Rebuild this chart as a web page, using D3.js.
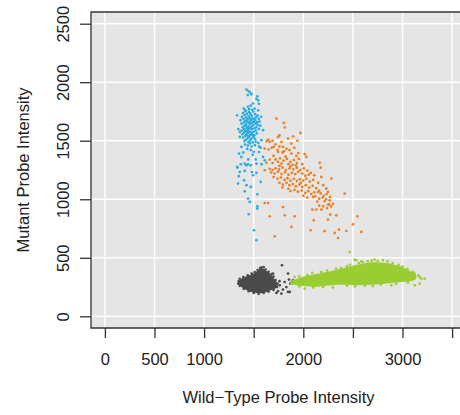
<!DOCTYPE html>
<html>
<head>
<meta charset="utf-8">
<script src="https://cdn.jsdelivr.net/npm/d3@7"></script>
<style>
  html, body { margin: 0; padding: 0; background: #fff; }
  svg { display: block; font-family: 'Liberation Sans', Arial, Helvetica, sans-serif; }
</style>
</head>
<body>
<svg id="chart" width="460" height="415"></svg>
<script>
// axis ticks (R drops the labels that would overlap)
const xTicks = [0, 500, 1000, 1500, 2000, 2500, 3000, 3500]
const xTickLabels = ['0', '500', '1000', '', '2000', '', '3000', '']
const yTicks = [0, 500, 1000, 1500, 2000, 2500]

// homozygous mutant calls
const bluePoints = [
  [1427,1937],[1447,1925],[1463,1912],[1477,1898],[1440,1890],[1537,1880],[1527,1858],[1545,1845],
  [1493,1818],[1553,1815],[1400,1775],[1443,1790],[1510,1775],[1545,1760],[1470,1800],[1455,1770],
  [1420,1760],[1485,1765],
  [1392,1737],[1414,1751],[1431,1729],[1452,1744],[1468,1722],[1497,1749],[1513,1727],[1538,1716],
  [1575,1705],[1333,1718],[1381,1704],[1407,1719],[1422,1698],[1447,1708],[1461,1693],[1483,1711],
  [1503,1689],[1523,1701],[1551,1686],[1368,1676],[1397,1688],[1413,1669],[1438,1683],[1457,1664],
  [1474,1679],[1492,1661],[1514,1676],[1534,1659],[1559,1664],[1377,1647],[1402,1657],[1424,1639],
  [1436,1662],[1463,1642],[1479,1652],[1497,1634],[1519,1646],[1541,1636],[1566,1629],[1388,1617],
  [1409,1631],[1433,1609],[1449,1621],[1471,1613],[1486,1626],[1507,1606],[1526,1617],[1552,1601],
  [1345,1600],[1379,1587],[1401,1603],[1418,1583],[1442,1592],[1458,1578],[1481,1599],[1499,1577],
  [1521,1586],[1595,1590],[1386,1556],[1404,1571],[1427,1553],[1443,1566],[1466,1549],[1484,1559],
  [1506,1546],[1531,1563],[1360,1575],[1394,1527],[1416,1541],[1437,1519],[1453,1533],[1476,1516],
  [1497,1529],[1514,1514],[1360,1533],[1578,1505],[1406,1497],[1423,1509],[1446,1489],[1464,1503],
  [1491,1486],[1521,1493],[1545,1480],[1414,1468],[1441,1459],[1461,1477],[1479,1451],[1511,1462],
  [1555,1450],[1570,1440],[1435,1430],[1470,1420],[1500,1405],[1554,1404],[1376,1447],[1353,1390],
  [1594,1362],[1611,1333],[1376,1362],[1527,1305],[1410,1305],[1333,1276],[1445,1340],[1490,1380],
  [1395,1400],[1520,1340],[1580,1300],[1428,1667],[1486,1688],[1454,1604],[1472,1571],[1413,1592],
  [1466,1733],[1432,1574],[1490,1545],[1455,1650],[1503,1661],[1420,1625],[1445,1537],
  [1336,1271],[1370,1299],[1427,1290],[1443,1299],[1470,1290],[1359,1233],[1410,1242],[1483,1233],
  [1527,1225],[1494,1205],[1349,1197],[1403,1162],[1342,1134],[1427,1120],[1470,1105],[1571,1148],
  [1410,1068],[1537,1043],[1443,1006],[1460,977],[1537,940],[1537,920],[1450,872],[1503,735],[1527,650]
]

// heterozygous calls
const orangePoints = [
  [1729,1689],[1803,1652],[1813,1613],[1746,1533],[1760,1545],[1971,1567],[1897,1538],[1846,1519],
  [1940,1500],[1645,1510],[1662,1490],[1630,1495],[1690,1500],[1780,1490],[1880,1476],[1796,1447],
  [1760,1450],[1720,1470],[1702,1447],[1680,1440],[1611,1433],[1650,1425],[1830,1430],[1910,1440],
  [1860,1420],[1740,1420],[1805,1410],
  [1746,1405],[1790,1400],[1880,1390],[2014,1385],[2031,1362],[1930,1370],[1700,1370],[1662,1339],
  [1628,1311],[1720,1340],[1765,1350],[1800,1330],[1835,1345],[1870,1320],[1905,1335],[1955,1345],
  [2165,1311],[1690,1310],[1745,1320],[1780,1305],[1850,1300],[1890,1295],[1935,1310],[1990,1300],
  [1820,1365],[1950,1395],
  [2175,1270],[1611,1248],[1660,1260],[1690,1250],[1720,1265],[1755,1255],[1790,1270],[1825,1250],
  [1860,1265],[1900,1255],[1935,1270],[1970,1250],[2005,1265],[2040,1245],[2075,1225],[2182,1191],
  [2283,1177],[1675,1230],[1710,1220],[1745,1235],[1780,1215],[1815,1230],[1850,1210],[1885,1225],
  [1920,1215],[1950,1235],[1990,1220],[2020,1200],[2055,1210],[2110,1205],[1870,1280],[1925,1290],
  [1760,1285],
  [1700,1190],[1740,1175],[1775,1185],[1810,1165],[1840,1180],[1870,1160],[1905,1175],[1935,1155],
  [1965,1170],[2000,1160],[2030,1175],[2065,1150],[2100,1165],[2150,1140],[2200,1120],[1760,1140],
  [1795,1125],[1830,1140],[1860,1120],[1895,1130],[1925,1110],[1960,1125],[1990,1105],[2025,1120],
  [2060,1100],[2095,1115],[2130,1095],[2160,1075],[2249,1063],[2232,1091],[1790,1100],[1850,1090],
  [1975,1140],
  [1870,1070],[1910,1080],[1945,1065],[1985,1075],[2020,1055],[2050,1070],[2080,1045],[2110,1060],
  [2148,1062],[2175,1050],[2205,1030],[2235,1045],[2417,1049],[2000,1030],[2040,1015],[2098,1020],
  [2120,1025],[2160,1005],[2195,1015],[2230,1000],[2270,1020],[2266,991],
  [2140,980],[2215,983],[2259,957],[2250,955],[2280,940],[2200,940],[2240,925],[2132,912],[2182,912],
  [2091,912],[2160,945],[2300,960],
  [1611,968],[1645,968],[1796,934],[1813,863],
  [1662,855],[1913,855],[2105,820],[2249,826],[2272,869],[2333,863],[2545,855],[2501,786],[1880,764],
  [1712,684],[2074,735],[2215,727],[2360,741],[2316,712],[2350,669],[2434,729],[2585,721]
]

// homozygous wild-type calls: dense core outline plus the scattered points around it
const greenCore = [
  [1873,291],[1923,316],[2014,342],[2145,363],[2316,393],[2417,415],[2518,436],[2618,453],[2719,462],
  [2820,457],[2920,440],[3021,410],[3091,380],[3142,342],[3132,316],[3081,299],[2951,291],[2820,278],
  [2689,269],[2548,265],[2417,269],[2286,265],[2145,252],[2014,256],[1933,265],[1883,274]
]
const greenPoints = [
  [1960,340],[2040,352],[2090,372],[2180,378],[2240,390],[2330,405],[2380,412],[2440,426],[2470,440],
  [2560,452],[2600,462],[2650,470],[2690,476],[2750,472],[2803,480],[2850,470],[2900,455],[2960,440],
  [3000,425],[3050,405],[3105,379],[3122,365],[3160,350],[3172,336],[3222,322],[3188,322],[3172,279],
  [3125,265],[3054,288],[2937,279],[2887,265],[2780,270],[2700,258],[2620,262],[2520,255],[2440,262],
  [2299,245],[2200,250],[2100,245],[2014,237],[1960,255],[1880,279],[1900,300],[1913,336],[2467,550],
  [2518,485],[2535,479],[2719,485],[2585,470]
]

// no-call / background
const grayCore = [
  [1349,291],[1380,322],[1420,340],[1470,356],[1515,372],[1548,395],[1575,410],[1600,405],[1631,385],
  [1672,359],[1702,325],[1732,291],[1742,265],[1722,239],[1672,222],[1621,205],[1561,197],[1490,205],
  [1430,222],[1380,248],[1349,265]
]
const grayPoints = [
  [1349,300],[1360,320],[1395,335],[1440,350],[1480,365],[1510,378],[1540,395],[1565,412],[1578,416],
  [1600,420],[1620,400],[1650,380],[1680,360],[1700,340],[1720,310],[1740,280],[1735,250],[1700,225],
  [1650,210],[1600,200],[1550,192],[1500,200],[1450,215],[1400,235],[1360,260],[1345,280],
  [1785,436],[1695,365],[1846,365],[1762,265],[1795,228],[1829,250],[1846,208],[1729,199],[1779,194],
  [1870,279],[1856,314],[1812,293],[1863,208],[1896,308],[1880,285],[1760,300],[1745,215]
]

const svgEl = document.getElementById('chart')
const svg = d3.select(svgEl)

const panel = { left: 91, top: 12, right: 466, bottom: 328 }
const x = d3.scaleLinear().domain([-140, 3640]).range([panel.left, panel.right])
const y = d3.scaleLinear().domain([-100, 2600]).range([panel.bottom, panel.top])

const ink = '#222'
const font = 16.5

svg.append('defs').append('clipPath').attr('id', 'clip')
  .append('rect')
  .attr('x', panel.left).attr('y', panel.top)
  .attr('width', panel.right - panel.left).attr('height', panel.bottom - panel.top)

svg.append('rect')
  .attr('x', panel.left).attr('y', panel.top)
  .attr('width', panel.right - panel.left).attr('height', panel.bottom - panel.top)
  .attr('fill', '#e5e5e5')

const grid = svg.append('g').attr('clip-path', 'url(#clip)')
grid.selectAll('line.vx')
  .data(xTicks)
  .join('line')
  .attr('x1', (d) => x(d)).attr('x2', (d) => x(d))
  .attr('y1', panel.top).attr('y2', panel.bottom)
  .attr('stroke', '#fff').attr('stroke-width', 1.4)
grid.selectAll('line.hy')
  .data(yTicks)
  .join('line')
  .attr('x1', panel.left).attr('x2', panel.right)
  .attr('y1', (d) => y(d)).attr('y2', (d) => y(d))
  .attr('stroke', '#fff').attr('stroke-width', 1.4)

const plot = svg.append('g').attr('clip-path', 'url(#clip)')
const blob = d3.line().x((d) => x(d[0])).y((d) => y(d[1])).curve(d3.curveCatmullRomClosed)

function drawPoints(data, color) {
  plot.append('g')
    .selectAll('circle')
    .data(data)
    .join('circle')
    .attr('cx', (d) => x(d[0]))
    .attr('cy', (d) => y(d[1]))
    .attr('r', 1.35)
    .attr('fill', color)
}

plot.append('path').attr('d', blob(grayCore)).attr('fill', '#4a4a4a')
drawPoints(grayPoints, '#4a4a4a')
plot.append('path').attr('d', blob(greenCore)).attr('fill', '#9acd32')
drawPoints(greenPoints, '#9acd32')
drawPoints(bluePoints, '#29abe2')
drawPoints(orangePoints, '#f07c1c')

// panel frame (right edge falls outside the picture)
svg.append('path')
  .attr('d', `M${panel.right},${panel.top}H${panel.left}V${panel.bottom}H${panel.right}`)
  .attr('fill', 'none').attr('stroke', '#333').attr('stroke-width', 1.3)

const xAxis = svg.append('g')
  .attr('transform', `translate(0,${panel.bottom})`)
  .call(d3.axisBottom(x).tickValues(xTicks).tickSize(10).tickPadding(15)
    .tickFormat((d, i) => xTickLabels[i]))
xAxis.select('.domain').remove()
xAxis.selectAll('line').attr('stroke', '#333').attr('stroke-width', 1.3)
xAxis.selectAll('text').attr('fill', ink).attr('font-size', font).attr('font-family', null)

const yAxis = svg.append('g')
  .attr('transform', `translate(${panel.left},0)`)
  .call(d3.axisLeft(y).tickValues(yTicks).tickSize(11).tickFormat((d) => d))
yAxis.select('.domain').remove()
yAxis.selectAll('line').attr('stroke', '#333').attr('stroke-width', 1.3)
yAxis.selectAll('text')
  .attr('fill', ink).attr('font-size', font).attr('font-family', null)
  .attr('x', null).attr('dy', null)
  .attr('text-anchor', 'middle')
  .attr('transform', 'translate(-22.5,0) rotate(-90)')

svg.append('text')
  .attr('x', (panel.left + panel.right) / 2)
  .attr('y', 403)
  .attr('text-anchor', 'middle')
  .attr('fill', ink).attr('font-size', font)
  .text('Wild\u2212Type Probe Intensity')

svg.append('text')
  .attr('transform', `translate(28.5,${(panel.top + panel.bottom) / 2}) rotate(-90)`)
  .attr('text-anchor', 'middle')
  .attr('fill', ink).attr('font-size', font)
  .text('Mutant Probe Intensity')
</script>
</body>
</html>
